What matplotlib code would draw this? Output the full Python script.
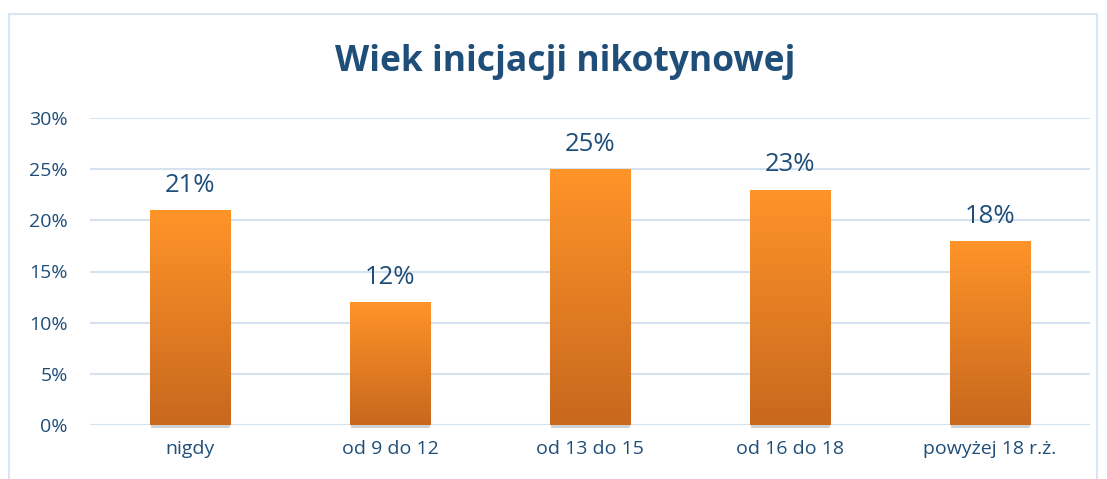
import numpy as np
import matplotlib.pyplot as plt
from matplotlib.colors import LinearSegmentedColormap
from matplotlib.patches import Rectangle

categories = ['nigdy', 'od 9 do 12', 'od 13 do 15', 'od 16 do 18', 'powyżej 18 r.ż.']
values = [21, 12, 25, 23, 18]
yticks = [0, 5, 10, 15, 20, 25, 30]

plt.rcParams['font.family'] = ['Open Sans', 'DejaVu Sans']
text_col = '#1F4E79'
grid_col = '#D5E2F0'

fig = plt.figure(figsize=(11.07, 4.79), dpi=100)
# outer frame
fig.patches.append(Rectangle((9 / 1107, -0.05), 1088 / 1107, 1 - 14 / 479 + 0.05,
                             transform=fig.transFigure, fill=False,
                             edgecolor='#DAE5F2', linewidth=1.5))

ax = fig.add_axes([90 / 1107, 54 / 479, 1000 / 1107, 307 / 479])
x = np.arange(len(categories))

cmap = LinearSegmentedColormap.from_list('og', ['#C8681E', '#FF9429'])
grad = np.linspace(0, 1, 256).reshape(-1, 1)

bars = ax.bar(x, values, width=0.405, color='none', zorder=3)
for b, v in zip(bars, values):
    x0 = b.get_x()
    w = b.get_width()
    # shadow under the bar
    ax.add_patch(Rectangle((x0 + 0.005, -0.3), w - 0.01, v, facecolor='#8F8F8F',
                           alpha=0.4, zorder=2, clip_on=False, linewidth=0))
    im = ax.imshow(grad, cmap=cmap, aspect='auto', extent=(x0, x0 + w, 0, v),
                   origin='lower', zorder=3)
    im.set_clip_path(b)
    ax.text(b.get_x() + w / 2, v + 1.2, f'{v}%', ha='center', va='bottom',
            fontsize=18.5, color=text_col)

ax.set_xlim(-0.5, len(categories) - 0.5)
ax.set_ylim(0, 30)
ax.set_yticks(yticks)
ax.set_yticklabels([f'{t}%' for t in yticks])
ax.set_xticks(x)
ax.set_xticklabels(categories)
ax.tick_params(axis='both', length=0, labelsize=14, colors=text_col)
ax.tick_params(axis='x', pad=11)
ax.tick_params(axis='y', pad=16)
ax.grid(axis='y', color=grid_col, linewidth=1.5, zorder=0)
ax.set_axisbelow(True)
for s in ax.spines.values():
    s.set_visible(False)

fig.text(565 / 1107, 1 - 62 / 479, 'Wiek inicjacji nikotynowej', ha='center', va='center',
         fontsize=25.5, fontweight='bold', color=text_col)

fig.savefig('out.png', dpi=100)
